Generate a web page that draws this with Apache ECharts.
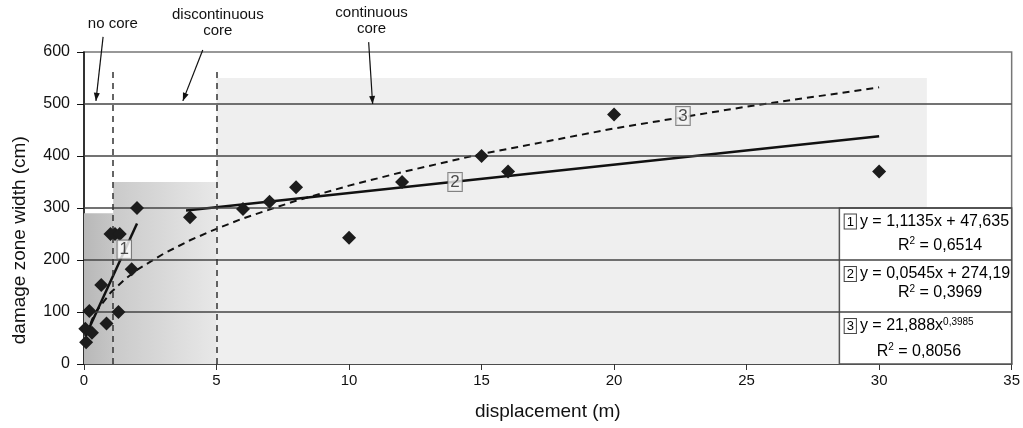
<!DOCTYPE html>
<html>
<head>
<meta charset="utf-8">
<script src="https://cdn.jsdelivr.net/npm/echarts@6/dist/echarts.min.js"></script>
<style>
html, body { margin: 0; padding: 0; background: #fff; }
#chart { width: 1023px; height: 428px; }
</style>
</head>
<body>
<div id="chart"></div>
<script>
// measured points (displacement m, damage zone width cm)
var samples = [
  [0.08, 42], [0.05, 68], [0.3, 60], [0.2, 102], [0.85, 78], [0.65, 152],
  [1.3, 100], [1.0, 250], [1.17, 250], [1.35, 250], [1.8, 182], [2, 300],
  [4, 282], [6, 298], [7, 312], [8, 340], [10, 243], [12, 350],
  [15, 400], [16, 370], [20, 480], [30, 370]
];
// trend lines
var fit1 = [[0.05, 53], [2, 270]];
var fit2 = [[3.85, 295], [30, 438]];
var fit3 = [
  [0.1, 55], [0.3, 85], [0.5, 104], [1, 137], [1.5, 161], [2, 181], [3, 212],
  [4, 238], [5, 260], [6, 280], [8, 314], [10, 343], [12, 369], [15, 404],
  [20, 453], [25, 495], [30, 532]
];
var fitTags = [
  { name: '1', value: [1.52, 220], bg: '#fff' },
  { name: '2', value: [14.0, 350], bg: '#f4f4f4' },
  { name: '3', value: [22.6, 477], bg: '#f4f4f4' }
];
// horizontal rules drawn over the shading
var yRules = [100, 200, 300, 400, 500];
// core boundaries (dashed) and shaded zones
var coreBounds = [1.1, 5];
var boundTop = 570;
var noCoreBox = [[0, 0], [1.1, 290]];
var discBox = [[1.1, 0], [5, 350]];
var contBox = [[5, 0], [31.8, 550]];
var eqBox = [[28.5, 0], [35, 300]];

// legend box content
var eqTags = ['1', '2', '3'];
var eqTexts = ['y = 1,1135x + 47,635', 'y = 0,0545x + 274,19', 'y = 21,888x'];
var eqExps = ['', '', '0,3985'];
var r2Texts = ['0,6514', '0,3969', '0,8056'];
var eqY = [274, 173, 73];
var r2Y = [228, 137, 24];
var r2X = [32.3, 32.3, 31.5];
var eqLeft = 28.7;

// top annotations: label centre, arrow start, arrow end (data coords)
var notes = [
  { text: 'no core', at: [1.09, 654], from: [0.72, 629], to: [0.45, 506] },
  { text: 'discontinuous\ncore', at: [5.05, 657], from: [4.48, 604], to: [3.73, 506] },
  { text: 'continuous\ncore', at: [10.85, 659], from: [10.74, 619], to: [10.89, 500] }
];

var FONT = '"Liberation Sans", Arial, sans-serif';

var chart = echarts.init(document.getElementById('chart'));

chart.setOption({
  backgroundColor: '#fff',
  animation: false,
  grid: {
    left: 84, right: 10, top: 52, bottom: 64,
    show: true, borderColor: '#777', borderWidth: 1.5, backgroundColor: 'transparent'
  },
  xAxis: {
    type: 'value', min: 0, max: 35, interval: 5,
    name: 'displacement (m)', nameLocation: 'middle', nameGap: 38,
    nameTextStyle: { fontFamily: FONT, fontSize: 19, color: '#111' },
    axisLine: { lineStyle: { color: '#333', width: 1.5 } },
    axisTick: { length: 6, lineStyle: { color: '#333' } },
    axisLabel: { fontFamily: FONT, fontSize: 15, color: '#111', margin: 9 },
    splitLine: { show: false }
  },
  yAxis: {
    type: 'value', min: 0, max: 600, interval: 100,
    axisLine: { show: true, lineStyle: { color: '#111', width: 1.5 } },
    axisTick: { show: true, length: 7, lineStyle: { color: '#111' } },
    axisLabel: { fontFamily: FONT, fontSize: 16, color: '#111', margin: 14 },
    splitLine: { show: false }
  },
  series: [
    {
      type: 'scatter', data: [], z: -2, silent: true,
      markArea: {
        silent: true,
        data: [
          [{ coord: contBox[0], itemStyle: { color: '#efefef' } }, { coord: contBox[1] }],
          [{ coord: noCoreBox[0], itemStyle: { color: {
            type: 'linear', x: 0, y: 0, x2: 1, y2: 0,
            colorStops: [{ offset: 0, color: '#b8b8b8' }, { offset: 1, color: '#c6c6c6' }] } } },
           { coord: noCoreBox[1] }],
          [{ coord: discBox[0], itemStyle: { color: {
            type: 'linear', x: 0, y: 0, x2: 1, y2: 0,
            colorStops: [{ offset: 0, color: '#cacaca' }, { offset: 1, color: '#e8e8e8' }] } } },
           { coord: discBox[1] }]
        ]
      }
    },
    {
      type: 'scatter', data: [], z: -1, silent: true,
      markArea: {
        silent: true,
        itemStyle: { color: '#fff', borderColor: '#555', borderWidth: 1.5 },
        data: [[{ coord: eqBox[0] }, { coord: eqBox[1] }]]
      }
    },
    {
      type: 'line', data: [], silent: true, z: 1,
      markLine: {
        silent: true, symbol: 'none', label: { show: false },
        lineStyle: { color: '#444', type: 'solid', width: 1.5 },
        data: yRules.map(function (v) { return { yAxis: v }; })
      }
    },
    {
      type: 'line', data: [], silent: true, z: 3,
      markLine: {
        silent: true, symbol: 'none', label: { show: false },
        lineStyle: { color: '#333', type: [6, 5], width: 1.5 },
        data: coreBounds.map(function (b) { return [{ coord: [b, 0] }, { coord: [b, boundTop] }]; })
      }
    },
    {
      type: 'line', data: fit3, symbol: 'none', z: 4,
      lineStyle: { color: '#111', width: 2, type: [7, 5] }
    },
    {
      type: 'line', data: fit1, symbol: 'none', z: 4,
      lineStyle: { color: '#111', width: 2.5 }
    },
    {
      type: 'line', data: fit2, symbol: 'none', z: 4,
      lineStyle: { color: '#111', width: 2.5 }
    },
    {
      type: 'scatter', data: samples, symbol: 'diamond', symbolSize: 14, z: 5,
      itemStyle: { color: '#1c1c1c', opacity: 1 }
    },
    {
      type: 'scatter', symbolSize: 1, z: 6,
      data: fitTags.map(function (t) {
        return { name: t.name, value: t.value, label: { backgroundColor: t.bg } };
      }),
      itemStyle: { color: 'transparent' },
      label: {
        show: true, position: 'inside', formatter: '{b}',
        fontFamily: FONT, fontSize: 17, color: '#222',
        borderColor: '#666', borderWidth: 1,
        padding: [1, 2, 0, 2]
      }
    }
  ]
});

function px(p) { return chart.convertToPixel({ gridIndex: 0 }, p); }

var graphics = [];
notes.forEach(function (n) {
  var c = px(n.at), a = px(n.from), b = px(n.to);
  graphics.push({
    type: 'text', z: 10,
    style: { text: n.text, x: c[0], y: c[1], align: 'center', verticalAlign: 'middle',
      font: '15px ' + FONT, fill: '#111', lineHeight: 16 }
  });
  graphics.push({
    type: 'line', z: 10,
    shape: { x1: a[0], y1: a[1], x2: b[0], y2: b[1] },
    style: { stroke: '#111', lineWidth: 1.2 }
  });
  var ang = Math.atan2(b[1] - a[1], b[0] - a[0]);
  var L = 8, W = 3;
  var bx = b[0] - L * Math.cos(ang), by = b[1] - L * Math.sin(ang);
  graphics.push({
    type: 'polygon', z: 10,
    shape: { points: [
      [b[0], b[1]],
      [bx + W * Math.sin(ang), by - W * Math.cos(ang)],
      [bx - W * Math.sin(ang), by + W * Math.cos(ang)]
    ] },
    style: { fill: '#111' }
  });
});

var rich = {
  tag: { fontFamily: FONT, fontSize: 13, color: '#222', borderColor: '#444', borderWidth: 1,
    padding: [1, 2, 0, 2], backgroundColor: '#fff' },
  t: { fontFamily: FONT, fontSize: 16, color: '#111' },
  sp: { fontFamily: FONT, fontSize: 16, color: '#111', width: 4 },
  sup: { fontFamily: FONT, fontSize: 10, color: '#111', verticalAlign: 'top', padding: [0, 0, 8, 0] }
};
for (var i = 0; i < eqTags.length; i++) {
  var e = px([eqLeft, eqY[i]]);
  var eqStr = '{tag|' + eqTags[i] + '}{sp| }{t|' + eqTexts[i] + '}' +
    (eqExps[i] ? '{sup|' + eqExps[i] + '}' : '');
  graphics.push({
    type: 'text', z: 10,
    style: { text: eqStr, x: e[0], y: e[1], align: 'left', verticalAlign: 'middle', rich: rich }
  });
  var r = px([r2X[i], r2Y[i]]);
  graphics.push({
    type: 'text', z: 10,
    style: { text: '{t|R}{sup|2}{t| = ' + r2Texts[i] + '}', x: r[0], y: r[1],
      align: 'center', verticalAlign: 'middle', rich: rich }
  });
}

// y axis title sits a bit below the axis middle in the original
var yt = px([0, 238]);
graphics.push({
  type: 'text', z: 10, x: 20, y: yt[1], rotation: Math.PI / 2,
  style: { text: 'damage zone width (cm)', x: 0, y: 0, align: 'center', verticalAlign: 'middle',
    font: '19px ' + FONT, fill: '#111' }
});

chart.setOption({ graphic: graphics });
</script>
</body>
</html>
